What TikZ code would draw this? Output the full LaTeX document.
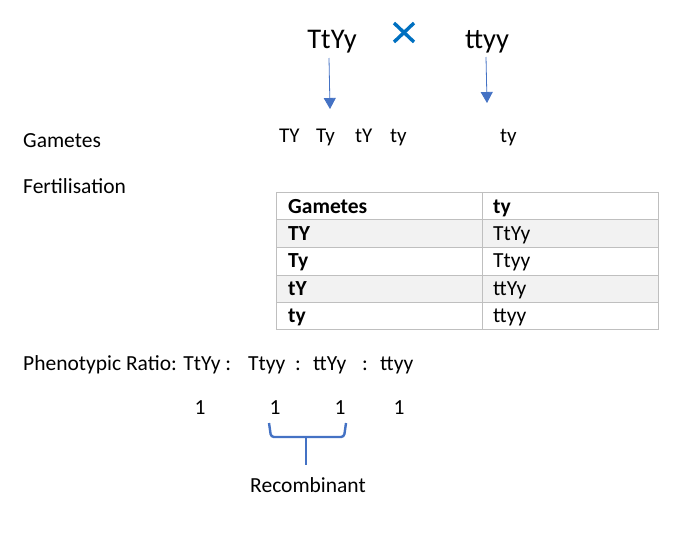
\documentclass[tikz,border=0pt]{standalone}
\usepackage{fontspec}
\setmainfont{Carlito}
\usetikzlibrary{arrows.meta}

\definecolor{crossblue}{RGB}{0,112,192}
\definecolor{arrowblue}{RGB}{68,114,196}
\definecolor{gridgrey}{RGB}{191,191,191}
\definecolor{rowgrey}{RGB}{242,242,242}

\tikzset{
  txt/.style={inner sep=0pt,anchor=base west,font=\fontsize{21.5}{25}\selectfont},
  num/.style={txt,anchor=base},
  big/.style={inner sep=0pt,anchor=base,font=\fontsize{28.5}{33}\selectfont},
  gam/.style={inner sep=0pt,anchor=base west,font=\fontsize{21}{25}\selectfont},
  cell/.style={txt},
  hcell/.style={txt,font=\fontsize{21.5}{25}\selectfont\bfseries},
  genarrow/.style={arrowblue,line width=0.8pt,-{Triangle[width=12pt,length=11pt]}},
  brace/.style={arrowblue,line width=2.4pt}
}

\begin{document}
\begin{tikzpicture}
[x=1pt,y=-1pt]
\useasboundingbox (0,0) rectangle (700,538);

\node[big](par1) at (332,48){TtYy};
\node[big](par2) at (487,48){ttyy};
\draw[crossblue,line width=3.4pt] (394,23) -- (414,42) (414,23) -- (394,42);

\coordinate (a1s) at (329,58);
\coordinate (a1e) at (330,109);
\coordinate (a2s) at (486,57);
\coordinate (a2e) at (487,103);
\draw[genarrow] (a1s) -- (a1e);
\draw[genarrow] (a2s) -- (a2e);

\node[txt](gamlabel) at (23,147){Gametes};
\node[gam](g1) at (279,142){TY};
\node[gam](g2) at (316,142){Ty};
\node[gam](g3) at (355,142){tY};
\node[gam](g4) at (390,142){ty};
\node[gam](g5) at (500,142){ty};

\node[txt](fert) at (23,193){Fertilisation};

% table
\fill[rowgrey] (276,219) rectangle (658,247);
\fill[rowgrey] (276,275) rectangle (658,302);
\draw[gridgrey,line width=0.9pt] (276,192) rectangle (658,329);
\foreach \y in {219,247,275,302}
  \draw[gridgrey,line width=0.9pt] (276,\y) -- (658,\y);
\draw[gridgrey,line width=0.9pt] (482,192) -- (482,329);

\node[hcell](h1) at (288,213){Gametes};
\node[hcell](h2) at (493,213){ty};
\node[hcell](r1) at (288,240){TY};
\node[cell](c1) at (493,240){TtYy};
\node[hcell](r2) at (288,267){Ty};
\node[cell](c2) at (493,267){Ttyy};
\node[hcell](r3) at (288,295){tY};
\node[cell](c3) at (493,295){ttYy};
\node[hcell](r4) at (288,322){ty};
\node[cell](c4) at (493,322){ttyy};

\node[txt](ratio) at (23,370){Phenotypic Ratio: TtYy :};
\node[txt](ph2) at (248,370){Ttyy};
\node[num](col2) at (298,370){:};
\node[txt](ph3) at (313,370){ttYy};
\node[num](col3) at (365,370){:};
\node[txt](ph4) at (380,370){ttyy};

\node[num](n1) at (200,414){1};
\node[num](n2) at (275,414){1};
\node[num](n3) at (340,414){1};
\node[num](n4) at (399,414){1};

\draw[brace,rounded corners=3pt] (269,423) -- (271,437) -- (344,437) -- (346,423);
\coordinate (stem) at (306,437);
\node[num](recomb) at (308,492){Recombinant};
\draw[brace] (stem) -- (306,465);

\end{tikzpicture}
\end{document}
